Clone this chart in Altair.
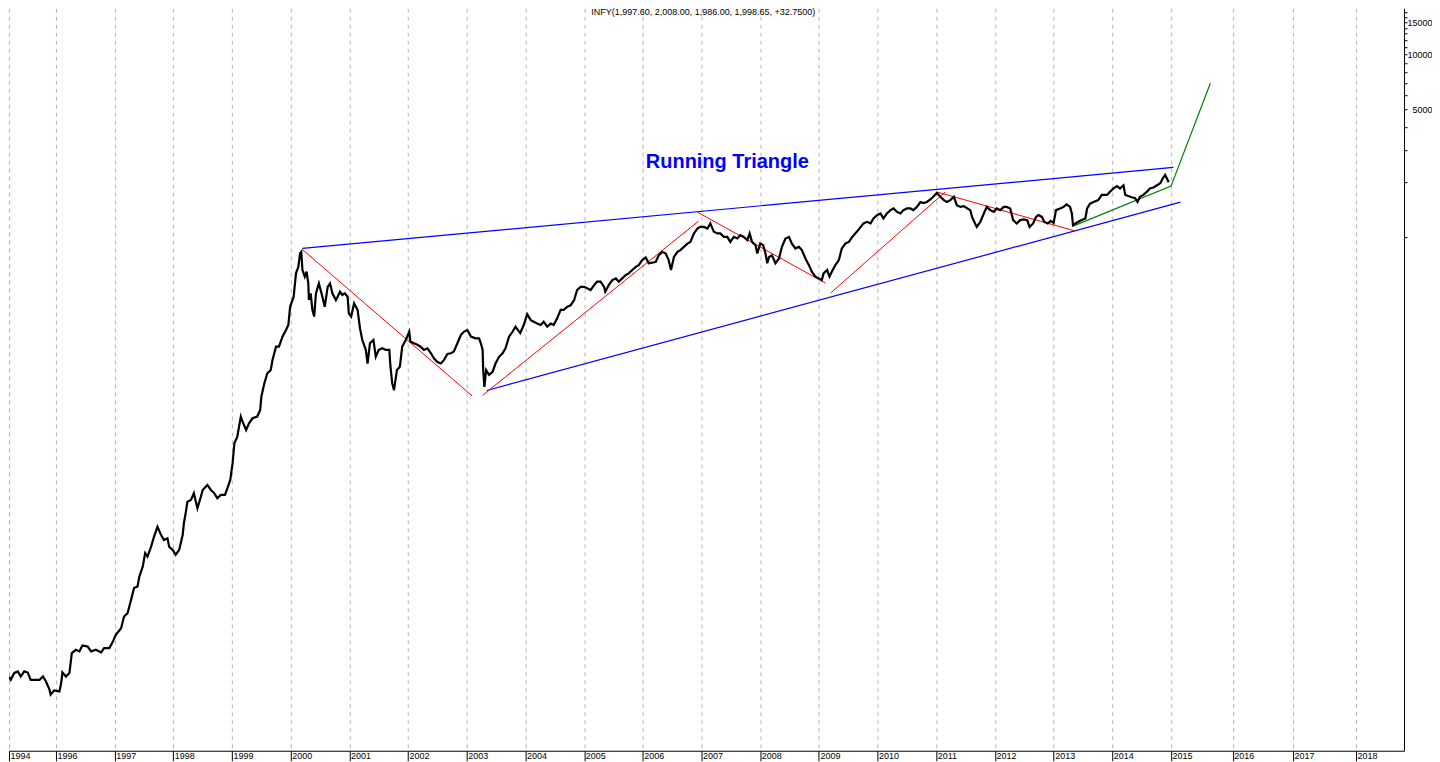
import altair as alt
import pandas as pd

# ---- price series (decimal year, price) ----
price_years = [
    1995.20, 1995.23, 1995.29, 1995.35, 1995.40, 1995.46, 1995.52, 1995.57, 1995.63, 1995.72,
    1995.78, 1995.83, 1995.89, 1995.91, 1995.97, 1996.06, 1996.09, 1996.11, 1996.17, 1996.23,
    1996.27, 1996.34, 1996.40, 1996.45, 1996.54, 1996.60, 1996.68, 1996.77, 1996.82, 1996.91,
    1996.97, 1997.02, 1997.11, 1997.16, 1997.22, 1997.28, 1997.33, 1997.39, 1997.42, 1997.48,
    1997.52, 1997.56, 1997.62, 1997.67, 1997.73, 1997.79, 1997.84, 1997.90, 1997.93, 1997.99,
    1998.04, 1998.10, 1998.16, 1998.18, 1998.21, 1998.24, 1998.30, 1998.35, 1998.41, 1998.47,
    1998.50, 1998.58, 1998.64, 1998.70, 1998.75, 1998.81, 1998.88, 1998.92, 1998.97, 1999.01,
    1999.04, 1999.09, 1999.15, 1999.18, 1999.24, 1999.29, 1999.35, 1999.43, 1999.48, 1999.50,
    1999.55, 1999.60, 1999.66, 1999.69, 1999.75, 1999.80, 1999.86, 1999.92, 1999.96, 1999.99,
    2000.05, 2000.09, 2000.13, 2000.16, 2000.18, 2000.20, 2000.24, 2000.27, 2000.30, 2000.31,
    2000.34, 2000.37, 2000.40, 2000.43, 2000.48, 2000.54, 2000.58, 2000.63, 2000.67, 2000.71,
    2000.77, 2000.80, 2000.84, 2000.88, 2000.92, 2000.97, 2000.99, 2001.03, 2001.08, 2001.14,
    2001.18, 2001.22, 2001.28, 2001.31, 2001.35, 2001.41, 2001.45, 2001.50, 2001.56, 2001.62,
    2001.68, 2001.70, 2001.73, 2001.76, 2001.81, 2001.86, 2001.90, 2001.96, 2002.02, 2002.04,
    2002.10, 2002.16, 2002.21, 2002.27, 2002.33, 2002.39, 2002.44, 2002.50, 2002.56, 2002.61,
    2002.67, 2002.73, 2002.78, 2002.84, 2002.90, 2002.95, 2003.01, 2003.07, 2003.15, 2003.21,
    2003.24, 2003.27, 2003.28, 2003.30, 2003.33, 2003.38, 2003.44, 2003.49, 2003.55, 2003.61,
    2003.66, 2003.72, 2003.78, 2003.83, 2003.91, 2003.97, 2004.03, 2004.09, 2004.14, 2004.20,
    2004.26, 2004.31, 2004.37, 2004.43, 2004.48, 2004.54, 2004.60, 2004.65, 2004.71, 2004.77,
    2004.83, 2004.88, 2004.94, 2005.00, 2005.05, 2005.11, 2005.17, 2005.22, 2005.28, 2005.34,
    2005.36, 2005.42, 2005.48, 2005.54, 2005.59, 2005.65, 2005.71, 2005.76, 2005.82, 2005.88,
    2005.93, 2005.99, 2006.05, 2006.10, 2006.16, 2006.22, 2006.27, 2006.33, 2006.39, 2006.44,
    2006.48, 2006.53, 2006.59, 2006.64, 2006.70, 2006.76, 2006.81, 2006.87, 2006.93, 2006.98,
    2007.04, 2007.10, 2007.15, 2007.21, 2007.27, 2007.32, 2007.38, 2007.44, 2007.49, 2007.55,
    2007.61, 2007.66, 2007.72, 2007.78, 2007.82, 2007.86, 2007.92, 2007.95, 2008.00, 2008.05,
    2008.09, 2008.12, 2008.15, 2008.20, 2008.26, 2008.32, 2008.37, 2008.43, 2008.49, 2008.54,
    2008.60, 2008.66, 2008.71, 2008.77, 2008.83, 2008.88, 2008.94, 2009.00, 2009.05, 2009.08,
    2009.14, 2009.18, 2009.22, 2009.28, 2009.34, 2009.39, 2009.45, 2009.51, 2009.57, 2009.62,
    2009.69, 2009.76, 2009.82, 2009.88, 2009.93, 2009.99, 2010.05, 2010.10, 2010.16, 2010.22,
    2010.27, 2010.33, 2010.39, 2010.44, 2010.50, 2010.56, 2010.61, 2010.67, 2010.73, 2010.78,
    2010.84, 2010.90, 2010.96, 2011.01, 2011.07, 2011.13, 2011.18, 2011.24, 2011.30, 2011.35,
    2011.41, 2011.47, 2011.53, 2011.58, 2011.61, 2011.66, 2011.69, 2011.75, 2011.81, 2011.86,
    2011.92, 2011.98, 2012.03, 2012.09, 2012.15, 2012.20, 2012.26, 2012.31, 2012.37, 2012.43,
    2012.49, 2012.55, 2012.59, 2012.65, 2012.70, 2012.74, 2012.80, 2012.84, 2012.90, 2012.95,
    2013.00, 2013.04, 2013.11, 2013.17, 2013.22, 2013.28, 2013.31, 2013.33, 2013.37, 2013.42,
    2013.48, 2013.54, 2013.57, 2013.62, 2013.68, 2013.76, 2013.82, 2013.91, 2013.96, 2014.02,
    2014.08, 2014.13, 2014.19, 2014.22, 2014.27, 2014.33, 2014.39, 2014.43, 2014.47, 2014.53,
    2014.59, 2014.64, 2014.70, 2014.76, 2014.82, 2014.86, 2014.90, 2014.93, 2014.96,
]
price_values = [
    3.9, 3.76, 4.10, 4.18, 3.92, 4.18, 4.12, 3.76, 3.76, 3.76,
    3.92, 3.68, 3.32, 3.12, 3.29, 3.25, 3.62, 4.13, 3.92, 4.10,
    5.27, 5.49, 5.38, 5.79, 5.72, 5.38, 5.49, 5.31, 5.61, 5.61,
    6.09, 6.63, 7.21, 8.35, 8.71, 10.3, 11.95, 12.2, 13.8, 15.7,
    18.6, 17.8, 20.1, 22.8, 25.9, 23.4, 21.9, 22.4, 20.1, 19.35,
    18.2, 19.35, 23.4, 27.1, 30.7, 35.5, 36.3, 39.5, 32.7, 37.9,
    41.2, 43.9, 41.2, 39.5, 37.1, 38.7, 38.7, 42.1, 46.8, 57.8,
    74.3, 80.7, 104, 97.6, 87.8, 95.5, 101.8, 104, 113, 133.6,
    158, 179, 187, 212, 251, 251, 285, 310, 330, 415,
    471, 633, 687, 815, 830, 660, 607, 646, 558, 452,
    492, 399, 367, 492, 558, 471, 415, 534, 558, 492,
    452, 471, 502, 482, 492, 471, 382, 367, 433, 399,
    317, 273, 241, 203, 262, 273, 221, 241, 246, 241,
    241, 195, 158, 145, 187, 195, 251, 273, 303, 267,
    262, 257, 251, 241, 246, 231, 217, 207, 203, 212,
    229, 231, 236, 262, 291, 303, 310, 285, 279, 279,
    262, 241, 187, 151, 187, 176, 183, 203, 221, 231,
    246, 285, 303, 323, 298, 330, 378, 351, 344, 336,
    330, 344, 323, 336, 330, 359, 399, 399, 415, 423,
    452, 513, 534, 534, 524, 513, 546, 570, 570, 534,
    502, 546, 582, 594, 570, 594, 620, 633, 660, 687,
    702, 748, 774, 719, 724, 733, 794, 830, 813, 748,
    660, 778, 830, 849, 884, 921, 941, 1047, 1113, 1137,
    1137, 1113, 1188, 1069, 1047, 1047, 1003, 1003, 941, 1003,
    983, 1025, 1003, 963, 1047, 941, 904, 813, 921, 904,
    813, 719, 778, 794, 719, 764, 884, 983, 1003, 921,
    866, 884, 849, 764, 702, 646, 607, 594, 582, 633,
    660, 607, 646, 702, 748, 866, 921, 941, 1003, 1047,
    1113, 1188, 1212, 1188, 1266, 1319, 1347, 1266, 1347, 1405,
    1435, 1376, 1347, 1405, 1435, 1435, 1405, 1463, 1557, 1537,
    1557, 1608, 1677, 1747, 1663, 1594, 1557, 1594, 1663, 1495,
    1463, 1478, 1435, 1405, 1290, 1188, 1137, 1212, 1347, 1463,
    1405, 1376, 1435, 1405, 1463, 1463, 1435, 1239, 1188, 1239,
    1250, 1239, 1137, 1188, 1290, 1319, 1290, 1212, 1188, 1228,
    1197, 1405, 1435, 1463, 1512, 1463, 1347, 1162, 1188, 1212,
    1239, 1266, 1435, 1525, 1557, 1594, 1703, 1703, 1773, 1847,
    1901, 1847, 1922, 1703, 1680, 1652, 1631, 1557, 1663, 1703,
    1773, 1847, 1870, 1922, 1981, 2096, 2189, 2096, 1999,
]

# ---- drawn trend lines ----
blue_seg = ["upper", "upper", "lower", "lower"]
blue_years = [2000.20, 2015.04, 2003.34, 2015.16]
blue_values = [867, 2407, 144.5, 1554]

red_seg = ["r1", "r1", "r2", "r2", "r3", "r3", "r4", "r4", "r5", "r5"]
red_years = [2000.19, 2003.09, 2003.27, 2006.95, 2006.93, 2009.11, 2009.20, 2011.15, 2011.02, 2013.37]
red_values = [860, 135, 136, 1223, 1370, 560, 494, 1763, 1763, 1079]

green_seg = ["g", "g", "g"]
green_years = [2013.33, 2015.00, 2015.67]
green_values = [1149, 1902, 6966]

# ---- texts ----
header_text = "INFY(1,997.60, 2,008.00, 1,986.00, 1,998.65, +32.7500)"
title_text = "Running Triangle"

# ---- axes ----
x_domain = [1995.2, 2018.97]
y_domain = [1.537, 17920]
x_tick_values = [1995.2] + list(range(1996, 2016)) + [2016.05, 2017.08, 2018.15]
y_tick_values = list(range(1000, 18000, 1000))
y_labelled = [5000, 10000, 15000]

FONT = "Liberation Sans"

price_df = pd.DataFrame({"year": price_years, "price": price_values})
blue_df = pd.DataFrame({"seg": blue_seg, "year": blue_years, "price": blue_values})
red_df = pd.DataFrame({"seg": red_seg, "year": red_years, "price": red_values})
green_df = pd.DataFrame({"seg": green_seg, "year": green_years, "price": green_values})
title_df = pd.DataFrame({"year": [2007.44], "price": [2377], "text": [title_text]})
header_df = pd.DataFrame({"year": [2007.03], "price": [y_domain[1]], "text": [header_text]})

x_axis = alt.Axis(
    values=x_tick_values,
    labelExpr="datum.value < 1995.5 ? '1994' : format(floor(datum.value), 'd')",
    grid=True, gridDash=[4, 4], gridColor="#b4b4b4", gridWidth=1,
    ticks=True, tickSize=10, tickColor="black",
    labelAlign="left", labelBaseline="top", labelPadding=-9, labelOffset=1,
    labelFont=FONT, labelFontSize=9, labelColor="black",
    labelOverlap=False, labelFlush=False,
    domainColor="black", domainWidth=1, title=None,
)
y_axis = alt.Axis(
    orient="right",
    values=y_tick_values,
    labelExpr="indexof([%s], datum.value) >= 0 ? format(datum.value, 'd') : ''"
    % ",".join(str(v) for v in y_labelled),
    grid=False, tickSize=3, tickColor="black",
    labelAlign="right", labelBaseline="middle", labelPadding=25,
    labelFont=FONT, labelFontSize=9, labelColor="black",
    labelOverlap=False, labelFlush=False,
    domainColor="black", domainWidth=1, title=None,
)

x_enc = alt.X("year:Q", scale=alt.Scale(domain=x_domain, nice=False, zero=False), axis=x_axis)
y_enc = alt.Y("price:Q", scale=alt.Scale(type="log", domain=y_domain, nice=False), axis=y_axis)

price_line = alt.Chart(price_df).mark_line(color="black", strokeWidth=2.2, clip=True).encode(x=x_enc, y=y_enc)
blue_lines = alt.Chart(blue_df).mark_line(color="#0000ff", strokeWidth=1.2, clip=True).encode(
    x=x_enc, y=y_enc, detail="seg:N")
red_lines = alt.Chart(red_df).mark_line(color="#ff0000", strokeWidth=1, clip=True).encode(
    x=x_enc, y=y_enc, detail="seg:N")
green_lines = alt.Chart(green_df).mark_line(color="#008000", strokeWidth=1.2, clip=True).encode(
    x=x_enc, y=y_enc, detail="seg:N")

title_mark = alt.Chart(title_df).mark_text(
    font=FONT, fontSize=20, fontWeight="bold", color="#0000ff", align="center", baseline="alphabetic"
).encode(x=x_enc, y=y_enc, text="text:N")
header_mark = alt.Chart(header_df).mark_text(
    font=FONT, fontSize=9, color="black", align="center", baseline="top"
).encode(x=x_enc, y=y_enc, text="text:N")

chart = alt.layer(
    blue_lines, red_lines, green_lines, price_line, title_mark, header_mark
).properties(
    width=1396, height=743, padding=0, background="white"
).configure_view(strokeWidth=0)

chart.save("out.html", embed_options={"renderer": "svg", "actions": False})
